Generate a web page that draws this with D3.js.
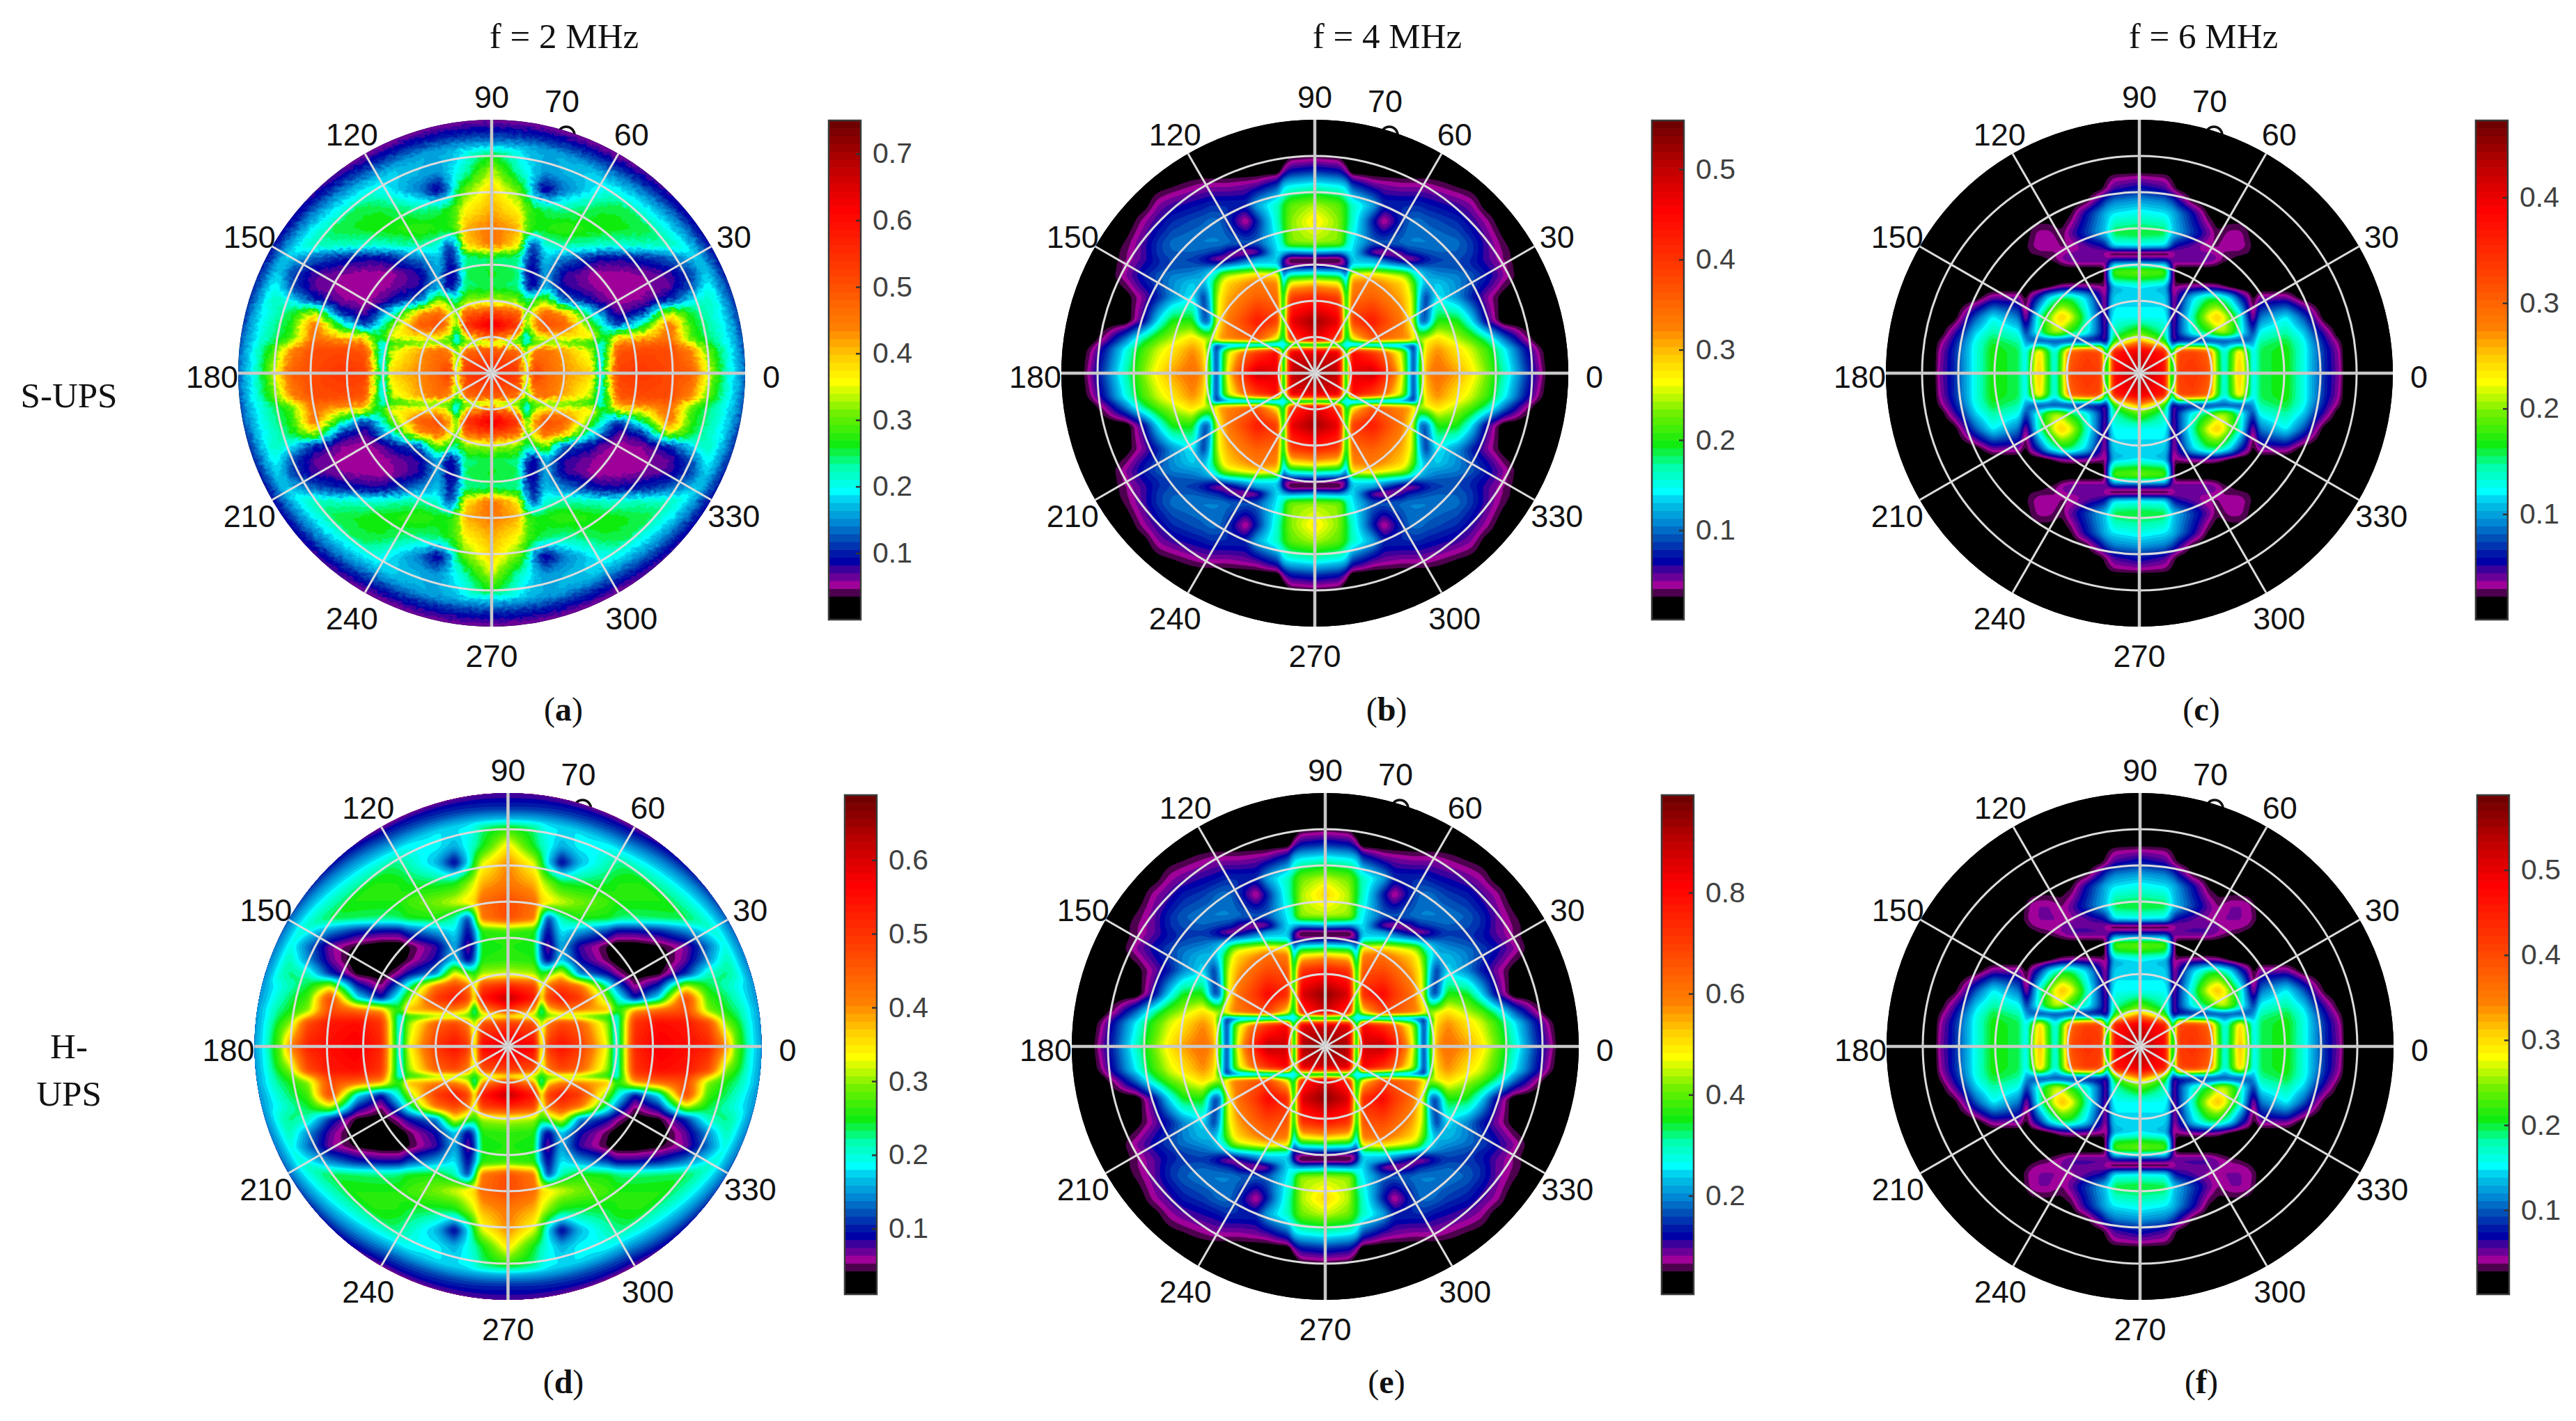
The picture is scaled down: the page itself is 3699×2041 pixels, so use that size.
<!DOCTYPE html>
<html><head><meta charset="utf-8"><style>html,body{margin:0;background:#fff}svg{display:block}</style>
<script src="https://cdn.jsdelivr.net/npm/d3@7"></script></head><body><div id="c"></div>
<script>
// Knot coordinates: 570 = plot radius horizontally, 633 = plot radius vertically.
const angleTicks=[0,30,60,90,120,150,180,210,240,270,300,330];
const ringTicks=[1,2,3,4,5,6];
const colStops=[[0,'#000'],[2,'#000'],[3,'#4d004d'],[4,'#a0009a'],[5,'#6a0098'],[6,'#3c009c'],[7,'#0000a8'],[8,'#0018a8'],[10,'#0050b8'],[12,'#0088d4'],[14,'#00b8e4'],[15,'#00d4f0'],[16,'#00ffff'],[19,'#00ffb0'],[22,'#10ec10'],[26,'#70f000'],[30,'#ffff00'],[33,'#ffd000'],[37,'#ff8000'],[44,'#ff4000'],[52,'#ff0000'],[58,'#b80000'],[63,'#700000']];
const titles=['f = 2 MHz','f = 4 MHz','f = 6 MHz'];
const capR=[5,5.6,6,6.3,6.6,6.85,7], capT=[0,30,60,90];

const xAD=[0,60,78,95,120,160,225,245,262,285,340,400,450,480,510,535,570];
const xD=[0,60,75,90,120,160,225,243,258,285,340,400,450,490,520,545,570];
const yAD=[0,60,75,90,120,150,180,215,250,290,320,360,410,458,500,540,590,640];
const gridA=[
[76,72,40,72,64,58,52,22,46,70,72,68,65,50,36,27,18],
[66,62,36,58,62,56,44,24,40,66,68,68,58,42,33,26,18],
[40,36,30,36,38,38,34,26,36,58,62,64,45,36,30,25,17],
[65,50,20,44,50,50,50,36,36,50,52,62,38,33,29,24,17],
[88,72,38,56,68,66,38,30,22,14,32,62,36,32,28,23,16],
[70,64,38,50,64,56,26,20,14,9,14,46,34,30,26,22,15],
[45,42,32,36,44,18,12,9,8,7,8,14,26,30,27,22,15],
[33,32,16,10,22,11,8,7,7,7,7,9,16,26,26,22,15],
[35,33,13,10,22,11,7,7,7,7,8,10,16,24,26,22,15],
[32,31,18,12,24,20,14,12,12,12,14,18,23,28,27,22,15],
[62,50,24,14,28,31,30,29,29,29,30,30,30,30,28,22,15],
[60,55,40,36,36,38,36,36,36,35,34,33,32,30,27,21,15],
[55,48,40,36,33,31,33,34,34,34,33,31,29,27,23,19,14],
[52,40,32,20,9,18,25,26,27,27,26,24,22,20,18,16,13],
[46,30,27,24,20,22,24,23,23,22,20,18,16,15,14,13,12],
[36,27,24,23,22,22,20,19,18,17,15,14,13,12,12,11,10],
[28,24,22,20,18,18,16,15,14,13,12,10,9,9,9,9,9],
[20,20,20,20,20,20,20,20,20,20,20,20,20,20,20,20,20]];
const capA=[[100,100,55,38,28,22,17],[100,60,32,28,22,15,12],[100,38,27,22,15,10,8],[100,50,35,22,14,10,8]];
const gridD=[
[88,82,42,72,80,72,46,24,40,75,84,80,76,58,40,27,21],
[70,66,40,60,68,64,42,24,40,72,80,78,68,42,34,26,20],
[46,40,34,38,40,40,34,26,38,66,72,72,52,38,32,25,20],
[72,55,24,50,58,58,55,36,40,55,62,68,42,35,31,25,20],
[92,78,46,70,78,72,40,30,24,12,26,70,38,33,28,23,18],
[76,70,42,62,70,62,30,20,14,6,14,46,34,30,26,22,17],
[46,44,36,40,50,20,12,8,6,3,4,14,30,32,28,23,17],
[37,36,18,10,24,12,5,3,2,2,2,9,20,30,28,23,17],
[36,35,14,8,22,10,4,2,2,2,4,8,18,28,28,23,17],
[38,36,20,11,26,22,16,12,12,12,14,20,27,32,30,24,17],
[68,60,30,14,30,36,35,33,32,32,33,34,34,34,31,25,18],
[68,62,52,50,46,42,38,36,36,36,36,36,36,34,31,25,18],
[60,54,46,42,34,33,34,36,36,36,36,35,34,32,28,23,17],
[58,46,36,24,10,22,30,31,32,33,33,31,28,25,22,19,15],
[50,34,30,27,22,26,26,26,26,25,22,20,18,16,15,14,12],
[38,32,28,26,25,25,22,21,20,20,18,16,14,13,12,11,10],
[30,26,24,22,20,20,18,16,15,14,12,10,9,9,9,9,9],
[20,20,20,20,20,20,20,20,20,20,20,20,20,20,20,20,20]];
const capD=[[100,100,58,40,31,25,22],[100,60,35,32,27,21,17],[100,40,30,24,17,12,8],[100,60,38,22,14,11,9]];

const xBE=[0,55,64,72,82,130,155,195,210,222,235,250,275,320,350,385,425,470,505,530];
const yBE=[0,55,64,72,82,130,190,225,245,258,272,285,300,325,380,420,470,505,532,560];
const gridB=[
[98,90,48,20,85,90,78,50,30,12,34,56,62,56,50,42,30,17,8,2],
[85,85,48,20,82,70,62,45,30,12,32,52,58,50,46,39,27,14,6,2],
[48,48,40,22,35,35,32,28,20,12,30,50,56,50,45,38,26,13,5,2],
[14,16,20,25,13,12,13,14,14,14,32,50,54,47,43,35,22,11,4,2],
[85,70,45,26,45,65,62,58,58,50,44,48,52,45,41,33,20,8,2,2],
[95,85,50,24,70,78,70,60,52,44,18,16,36,36,26,11,2,2,2,2],
[75,70,48,26,62,64,61,55,50,42,24,14,26,20,14,8,3,2,2,2],
[52,48,36,22,58,60,57,52,46,38,28,22,24,20,16,12,6,2,2,2],
[32,30,26,16,50,52,49,44,40,30,26,22,20,19,17,13,8,2,2,2],
[20,18,15,12,34,36,34,30,27,24,22,20,18,17,15,12,7,2,2,2],
[6,6,8,10,24,24,22,18,16,14,14,15,16,16,14,11,7,2,2,2],
[3,3,7,12,24,22,16,8,6,7,9,12,15,16,14,10,6,2,2,2],
[20,18,20,23,26,7,5,9,13,14,15,16,17,17,15,10,6,2,2,2],
[43,42,38,30,26,17,17,18,19,19,19,19,19,18,15,10,5,2,2,2],
[50,42,38,34,30,13,5,14,17,18,18,17,16,14,11,7,2,2,2,2],
[44,40,37,34,30,22,14,14,14,14,14,13,12,10,8,3,2,2,2,2],
[27,25,24,23,15,9,8,7,7,7,7,7,6,4,3,2,2,2,2,2],
[14,12,10,7,2,2,2,2,2,2,2,2,2,2,2,2,2,2,2,2],
[7,6,4,2,2,2,2,2,2,2,2,2,2,2,2,2,2,2,2,2],
[2,2,2,2,2,2,2,2,2,2,2,2,2,2,2,2,2,2,2,2]];
const gridE=[
[99,92,48,20,88,92,80,50,30,12,34,56,62,56,50,41,29,16,8,2],
[88,86,48,20,84,72,64,45,30,12,32,52,58,50,46,38,26,14,6,2],
[48,48,40,22,36,36,33,28,20,12,30,50,56,50,45,37,25,13,5,2],
[13,15,20,25,12,12,12,13,14,14,32,50,54,47,43,34,21,11,4,2],
[88,72,45,26,46,68,65,60,58,50,44,48,52,45,41,32,19,8,2,2],
[97,87,50,24,74,82,72,62,52,44,18,15,36,35,25,11,2,2,2,2],
[78,72,48,26,66,68,64,56,50,42,24,14,25,19,13,8,3,2,2,2],
[54,50,36,22,60,62,58,52,46,38,28,22,23,19,15,11,6,2,2,2],
[33,31,26,16,50,52,49,44,40,30,26,22,20,18,16,12,8,2,2,2],
[20,18,15,11,34,36,34,30,27,24,22,20,18,16,14,11,7,2,2,2],
[6,6,8,10,24,24,22,18,16,14,14,15,16,15,13,10,6,2,2,2],
[3,3,7,12,24,22,16,8,6,7,9,12,15,15,13,9,6,2,2,2],
[20,18,20,23,26,7,5,9,13,14,15,16,17,16,14,9,6,2,2,2],
[44,43,38,30,26,17,17,18,19,19,19,19,19,17,14,9,5,2,2,2],
[52,44,38,34,30,13,5,14,17,18,18,17,15,13,10,7,2,2,2,2],
[45,41,37,34,30,22,14,14,14,14,13,12,11,9,7,3,2,2,2,2],
[27,25,24,23,15,9,8,7,7,7,7,7,6,4,3,2,2,2,2,2],
[14,12,10,7,2,2,2,2,2,2,2,2,2,2,2,2,2,2,2,2],
[7,6,4,2,2,2,2,2,2,2,2,2,2,2,2,2,2,2,2,2],
[2,2,2,2,2,2,2,2,2,2,2,2,2,2,2,2,2,2,2,2]];

const xCF=[0,58,66,75,85,120,155,175,190,205,225,245,256,270,330,370,395,420,450,465];
const yCF=[0,55,70,82,100,140,190,215,235,255,270,285,300,318,350,400,430,460,490,510];
const gridC=[
[95,80,48,22,70,72,68,40,26,36,55,38,24,33,36,27,20,13,8,2],
[85,78,48,22,68,70,64,38,26,35,52,36,24,33,36,27,20,13,7,2],
[70,45,32,16,28,28,27,24,20,24,26,24,22,32,35,27,19,12,6,2],
[52,35,22,8,10,11,12,13,14,14,14,16,20,30,34,26,18,11,5,2],
[40,30,24,6,14,28,34,42,44,40,30,20,14,27,31,24,15,9,2,2],
[26,26,24,5,13,30,48,54,48,40,30,14,5,18,26,16,8,2,2,2],
[24,24,20,5,10,24,32,32,28,24,14,8,3,8,8,2,2,2,2,2],
[25,22,16,5,7,8,8,7,5,3,2,2,2,2,2,2,2,2,2,2],
[35,33,24,7,2,2,2,2,2,2,2,2,2,2,2,2,2,2,2,2],
[42,40,27,6,2,2,2,2,2,2,2,2,2,2,2,2,2,2,2,2],
[26,25,18,7,6,6,6,5,3,2,2,2,2,2,2,2,2,2,2,2],
[10,10,9,8,10,10,10,8,6,5,3,2,2,2,2,2,2,2,2,2],
[3,3,4,6,8,8,8,7,6,6,6,5,3,2,2,2,2,2,2,2],
[26,25,20,14,11,9,6,6,7,7,7,6,4,2,2,2,2,2,2,2],
[35,34,28,24,22,15,9,5,6,7,7,5,2,2,2,2,2,2,2,2],
[27,25,24,23,20,12,4,2,2,2,2,2,2,2,2,2,2,2,2,2],
[21,19,17,16,12,4,2,2,2,2,2,2,2,2,2,2,2,2,2,2],
[13,10,8,6,4,2,2,2,2,2,2,2,2,2,2,2,2,2,2,2],
[7,6,5,4,3,2,2,2,2,2,2,2,2,2,2,2,2,2,2,2],
[2,2,2,2,2,2,2,2,2,2,2,2,2,2,2,2,2,2,2,2]];
const gridF=[
[96,80,48,22,71,73,68,40,26,36,56,38,24,33,36,27,20,13,8,2],
[86,78,48,22,69,71,64,38,26,35,53,36,24,33,36,27,20,13,7,2],
[70,45,32,16,28,28,27,24,20,24,26,24,22,32,35,27,19,12,6,2],
[52,35,22,8,10,11,12,13,14,14,14,16,20,30,34,26,18,11,5,2],
[40,30,24,6,14,28,34,43,45,40,30,20,14,27,31,24,15,9,3,2],
[26,26,24,5,13,30,49,55,49,40,30,14,5,18,26,16,8,3,2,2],
[24,24,20,5,10,24,32,32,28,24,14,8,3,8,8,2,2,2,2,2],
[25,22,16,5,7,8,8,7,5,3,2,2,2,2,2,2,2,2,2,2],
[35,33,24,7,2,2,2,2,2,2,2,2,2,2,2,2,2,2,2,2],
[42,40,27,6,2,2,2,2,2,2,2,2,2,2,2,2,2,2,2,2],
[26,25,18,7,6,6,6,5,4,3,2,2,2,2,2,2,2,2,2,2],
[10,10,9,8,10,10,10,8,7,6,5,3,2,2,2,2,2,2,2,2],
[3,3,4,6,8,9,9,8,7,7,7,6,4,2,2,2,2,2,2,2],
[26,25,20,14,11,9,7,7,8,8,8,7,6,3,2,2,2,2,2,2],
[35,34,28,24,22,15,9,6,7,8,8,7,5,3,2,2,2,2,2,2],
[27,25,24,23,20,12,4,3,2,2,2,2,2,2,2,2,2,2,2,2],
[21,19,17,16,12,4,2,2,2,2,2,2,2,2,2,2,2,2,2,2],
[13,10,8,6,4,2,2,2,2,2,2,2,2,2,2,2,2,2,2,2],
[7,6,5,4,3,2,2,2,2,2,2,2,2,2,2,2,2,2,2,2],
[2,2,2,2,2,2,2,2,2,2,2,2,2,2,2,2,2,2,2,2]];

const ranges={a:[0,.75],b:[.001,.554],c:[0,.473],d:[.011,.688],e:[.005,.993],f:[.001,.588]};
const tickSets={a:[.1,.2,.3,.4,.5,.6,.7],b:[.1,.2,.3,.4,.5],c:[.1,.2,.3,.4],d:[.1,.2,.3,.4,.5,.6],e:[.2,.4,.6,.8],f:[.1,.2,.3,.4,.5]};
const panels=[
{id:'a',cx:706,cy:536,x:xAD,y:yAD,g:gridA,cap:capA,bar:[1190,173],noise:true},
{id:'b',cx:1888,cy:536,x:xBE,y:yBE,g:gridB,bar:[2372,173]},
{id:'c',cx:3072,cy:536,x:xCF,y:yCF,g:gridC,bar:[3555,173]},
{id:'d',cx:729.5,cy:1503,x:xD,y:yAD,g:gridD,cap:capD,bar:[1213,1142]},
{id:'e',cx:1903,cy:1503,x:xBE,y:yBE,g:gridE,bar:[2386,1142]},
{id:'f',cx:3073,cy:1503,x:xCF,y:yCF,g:gridF,bar:[3557,1142]}];

const W=3699,H=2041,Rx=364,Ry=364,BW=46,BH=717,STEP=2;
const svg=d3.select('#c').append('svg').attr('width',W).attr('height',H).attr('viewBox',[0,0,W,H]);
const defs=svg.append('defs');
const f=defs.append('filter').attr('id','grain').attr('x',0).attr('y',0).attr('width','100%').attr('height','100%').attr('filterUnits','objectBoundingBox');
f.append('feTurbulence').attr('type','fractalNoise').attr('baseFrequency','0.14 0.22').attr('numOctaves',2).attr('seed',3).attr('result','n');
f.append('feDisplacementMap').attr('in','SourceGraphic').attr('in2','n').attr('scale',11).attr('xChannelSelector','R').attr('yChannelSelector','G');

const levelColor=d3.scaleLinear().domain(colStops.map(d=>d[0])).range(colStops.map(d=>d[1])).clamp(true);
const palette=d3.range(64).map(i=>levelColor(i));

function mesh(xs,ys,g,u,v){
  const i=Math.min(Math.max(d3.bisectRight(xs,u)-1,0),xs.length-2), j=Math.min(Math.max(d3.bisectRight(ys,v)-1,0),ys.length-2);
  const s=Math.min(1,(u-xs[i])/(xs[i+1]-xs[i])), t=Math.min(1,(v-ys[j])/(ys[j+1]-ys[j]));
  return (g[j][i]*(1-s)+g[j][i+1]*s)*(1-t)+(g[j+1][i]*(1-s)+g[j+1][i+1]*s)*t;
}
const ringX=d3.scaleLinear([0,7],[0,Rx]), ringY=d3.scaleLinear([0,7],[0,Ry]);
const readX=d3.scaleLinear([0,Rx],[0,570]), readY=d3.scaleLinear([0,Ry],[0,633]);

panels.forEach(p=>{
  const [d0,d1]=ranges[p.id];
  const pct=d3.scaleLinear([0,100],[d0,d1]);
  const color=d3.scaleQuantize().domain([d0,d1]).range(palette);
  const nx=Math.ceil(2*Rx/STEP)+1, ny=Math.ceil(2*Ry/STEP)+1;
  const vals=new Float64Array(nx*ny);
  for(let j=0;j<ny;j++)for(let i=0;i<nx;i++){
    const px=Math.abs(i*STEP-Rx), py=Math.abs(j*STEP-Ry);
    let v=mesh(p.x,p.y,p.g,readX(px),readY(py));
    if(p.cap){
      const a=px/Rx,b=py/Ry,r=Math.hypot(a,b)*7,th=Math.atan2(b,a)*180/Math.PI;
      v=Math.min(v,mesh(capR,capT,p.cap,Math.min(r,7),th));
    }
    vals[j*nx+i]=pct(v);
  }
  if(d3.blur2) d3.blur2({data:vals,width:nx,height:ny},1);
  const root=svg.append('g').attr('class','panel-'+p.id);
  root.append('ellipse').attr('cx',p.cx+107).attr('cy',p.cy-342).attr('rx',12).attr('ry',12).attr('fill','none').attr('stroke','#111').attr('stroke-width',3.5);
  const clip='clip-'+p.id;
  defs.append('clipPath').attr('id',clip).append('ellipse').attr('cx',p.cx).attr('cy',p.cy).attr('rx',Rx).attr('ry',Ry);
  root.append('ellipse').attr('cx',p.cx).attr('cy',p.cy).attr('rx',Rx).attr('ry',Ry).attr('fill','#000');
  const clipG=root.append('g').attr('clip-path',`url(#${clip})`);
  const noiseG=clipG.append('g'); if(p.noise) noiseG.attr('filter','url(#grain)');
  if(p.noise) noiseG.append('rect').attr('x',p.cx-Rx).attr('y',p.cy-Ry).attr('width',2*Rx).attr('height',2*Ry).attr('fill','#000');
  const heat=noiseG.append('g').attr('transform',`translate(${p.cx-Rx-STEP/2},${p.cy-Ry-STEP/2}) scale(${STEP})`);
  const thresholds=d3.range(1,64).map(i=>d0+(d1-d0)*i/64);
  const contours=d3.contours().size([nx,ny]).smooth(true).thresholds(thresholds)(vals);
  const path=d3.geoPath();
  heat.selectAll('path').data(contours).join('path').attr('d',path).attr('fill',d=>color(d.value+1e-6)).attr('stroke',d=>color(d.value+1e-6)).attr('stroke-width',.15);
  const grid=root.append('g').attr('fill','none');
  grid.selectAll('ellipse').data(ringTicks).join('ellipse').attr('cx',p.cx).attr('cy',p.cy).attr('rx',d=>ringX(d)).attr('ry',d=>ringY(d)).attr('stroke','#dcdcdc').attr('stroke-width',3);
  grid.selectAll('line').data(angleTicks).join('line')
    .attr('x1',p.cx).attr('y1',p.cy)
    .attr('x2',d=>p.cx+ringX(7)*Math.cos(d*Math.PI/180)).attr('y2',d=>p.cy-ringY(7)*Math.sin(d*Math.PI/180))
    .attr('stroke',d=>d%90===0?'#c8c8c8':'#dcdcdc').attr('stroke-width',d=>d%90===0?4.5:3);
  root.selectAll('text.ang').data(angleTicks).join('text').attr('class','ang')
    .attr('x',d=>p.cx+1.103*Rx*Math.cos(d*Math.PI/180)).attr('y',d=>p.cy+4.5-1.103*Ry*Math.sin(d*Math.PI/180))
    .attr('text-anchor','middle').attr('dy','.36em').attr('font-family','Liberation Sans').attr('font-size',45).attr('fill','#111').text(d=>d);
  root.append('text').attr('x',p.cx+101).attr('y',p.cy-391).attr('text-anchor','middle').attr('dy','.36em').attr('font-family','Liberation Sans').attr('font-size',45).attr('fill','#111').text('70');
  const [bx,by]=p.bar;
  const barY=d3.scaleLinear([d0,d1],[by+BH,by]);
  const cb=root.append('g');
  cb.selectAll('rect').data(palette).join('rect').attr('x',bx).attr('width',BW)
    .attr('y',(d,i)=>barY(d0+(d1-d0)*(i+1)/64)).attr('height',BH/64+.6).attr('fill',d=>d);
  cb.append('rect').attr('x',bx).attr('y',by).attr('width',BW).attr('height',BH).attr('fill','none').attr('stroke','#3a3a3a').attr('stroke-width',2.5);
  const ax=cb.append('g').attr('transform',`translate(${bx+BW},0)`).call(d3.axisRight(barY).tickValues(tickSets[p.id]).tickSizeInner(-7).tickSizeOuter(0).tickPadding(17).tickFormat(d3.format('.1f')));
  ax.select('.domain').remove();
  ax.selectAll('line').attr('stroke','#333').attr('stroke-width',2.5);
  ax.selectAll('text').attr('font-family','Liberation Sans').attr('font-size',41).attr('fill','#404040');
});

const serif='Liberation Serif';
const tx=[810,1992,3164];
svg.selectAll('text.title').data(titles).join('text').attr('class','title').attr('x',(d,i)=>tx[i]).attr('y',69).attr('text-anchor','middle').attr('font-family',serif).attr('font-size',51).attr('fill','#111').text(d=>d);
const rowLabels=[['S-UPS',99,585],['H-',99,1520],['UPS',99,1588]];
svg.selectAll('text.row').data(rowLabels).join('text').attr('class','row').attr('x',d=>d[1]).attr('y',d=>d[2]).attr('text-anchor','middle').attr('font-family',serif).attr('font-size',51).attr('fill','#111').text(d=>d[0]);
const captions=[['a',809,1035],['b',1991,1035],['c',3161,1035],['d',809,2001],['e',1991,2001],['f',3161,2001]];
captions.forEach(c=>{
  const t=svg.append('text').attr('x',c[1]).attr('y',c[2]).attr('text-anchor','middle').attr('font-family',serif).attr('font-size',48).attr('fill','#111');
  t.append('tspan').text('(');t.append('tspan').attr('font-weight','bold').text(c[0]);t.append('tspan').text(')');
});
</script></body></html>
